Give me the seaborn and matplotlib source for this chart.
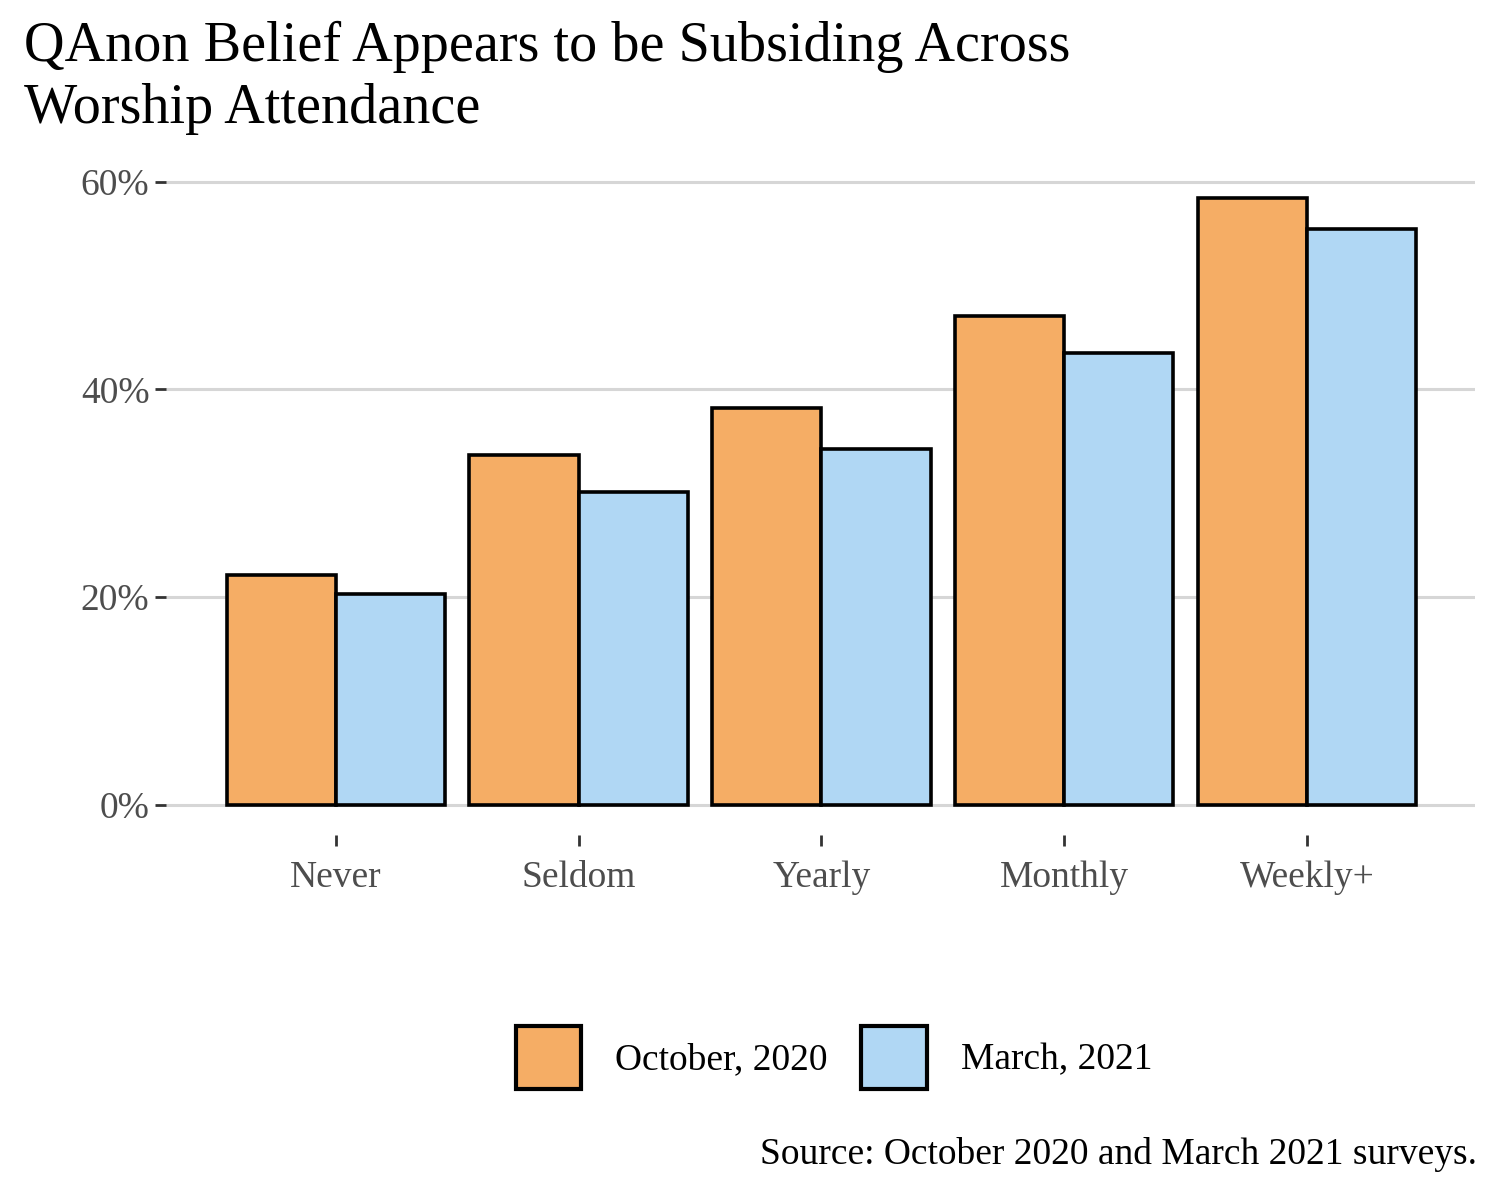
import pandas as pd
import matplotlib.pyplot as plt
import seaborn as sns
from matplotlib.ticker import FuncFormatter

attendance = ["Never", "Seldom", "Yearly", "Monthly", "Weekly+"]
october_2020 = [22.1, 33.7, 38.2, 47.1, 58.4]
march_2021 = [20.3, 30.1, 34.3, 43.5, 55.4]
waves = ["October, 2020", "March, 2021"]

df = pd.DataFrame({
    "attendance": attendance * 2,
    "value": october_2020 + march_2021,
    "wave": [waves[0]] * 5 + [waves[1]] * 5,
})

sns.set_theme(style="white")
plt.rcParams["font.family"] = ["Liberation Serif", "DejaVu Serif"]

fig = plt.figure(figsize=(15, 12), dpi=100)
ax = fig.add_axes([0.1107, 0.304, 0.983 - 0.1107, 0.556])

sns.barplot(data=df, x="attendance", y="value", hue="wave", order=attendance,
            hue_order=waves, palette=["#F5AD65", "#B0D7F4"], saturation=1,
            edgecolor="black", linewidth=2.6, width=0.9, ax=ax)

ax.set_xlim(-0.7, 4.69)
ax.set_ylim(-2.92, 61.3)
ax.set_yticks([0, 20, 40, 60])
ax.yaxis.set_major_formatter(FuncFormatter(lambda v, p: f"{v:.0f}%"))
ax.grid(axis="y", color="#D6D6D6", linewidth=2.2)
ax.set_axisbelow(True)
for s in ax.spines.values():
    s.set_visible(False)
ax.tick_params(axis="both", which="both", length=8, width=2, color="#333333",
               labelsize=27, labelcolor="#4D4D4D", direction="out", pad=4)
ax.tick_params(axis="x", pad=10, bottom=True)
ax.tick_params(axis="y", left=True)
ax.set_xlabel("")
ax.set_ylabel("")

handles, labels = ax.get_legend_handles_labels()
ax.legend_.remove()
for h in handles:
    h.set_linewidth(3)
fig.legend(handles, labels, loc="center", bbox_to_anchor=(0.556, 0.119), ncol=2,
           frameon=False, fontsize=27, handlelength=1.75, handleheight=2.2,
           handletextpad=0.9, columnspacing=0.9, labelcolor="black")

fig.text(0.016, 0.983, "QAnon Belief Appears to be Subsiding Across\nWorship Attendance",
         ha="left", va="top", fontsize=40.5, linespacing=1.25, color="black")
fig.text(0.985, 0.038, "Source: October 2020 and March 2021 surveys.",
         ha="right", va="center", fontsize=27, color="black")

fig.savefig("out.png", dpi=100)
